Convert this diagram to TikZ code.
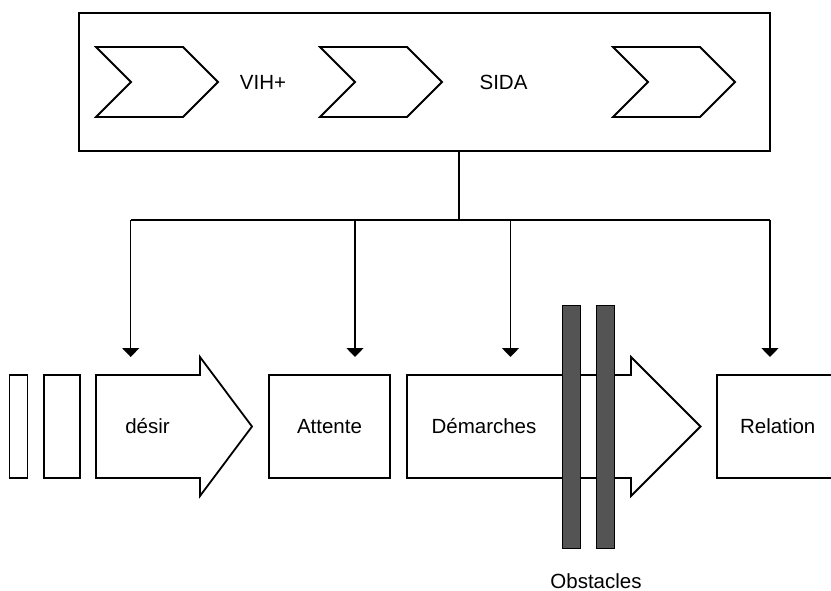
\documentclass[tikz,border=0pt]{standalone}
\usepackage{fontspec}
\setmainfont{Liberation Sans}
\usetikzlibrary{arrows.meta}
\begin{document}
\begin{tikzpicture}[x=1pt, y=-1pt, line width=1.8pt, font=\fontsize{20.5}{24}\selectfont,
        drop/.style={draw, line width=1.5pt, -{Triangle[length=9pt,width=17pt]}}]
            \tikzstyle{box}=[draw, inner sep=0pt, minimum width=121pt, minimum height=103pt]
            \tikzstyle{slab}=[draw, inner sep=0pt, minimum height=103pt]
            \tikzstyle{barrier}=[draw, line width=1.2pt, fill=black!67, inner sep=0pt, minimum width=18pt, minimum height=243pt]
            \useasboundingbox (0,0) rectangle (831,591);
            % Top frame
            \node[draw, inner sep=0pt, minimum width=691pt, minimum height=138pt] (frame) at (424.5,82) {};
            \foreach \x in {96,320,613} {
                \draw (\x,47) -- ++(87,0) -- ++(35,35) -- ++(-35,35) -- ++(-87,0) -- ++(35,-35) -- cycle;
            }
            \node (vih) at (263,82) {VIH+};
            \node (sida) at (503.5,82) {SIDA};
            % Trunk and drops
            \coordinate (bus) at (459,220);
            \coordinate (d1) at (130.7,357);
            \coordinate (d2) at (355,357);
            \coordinate (d3) at (510.5,357);
            \coordinate (d4) at (770,357);
            \draw (frame.south -| bus) -- (bus);
            \draw (d1 |- bus) -- (d4 |- bus);
            \foreach \d in {d1,d2,d3,d4}
                \draw[drop] (\d |- bus) -- (\d);
            % Bottom row
            \node[slab, minimum width=18pt] (old1) at (18.5,426.5) {};
            \node[slab, minimum width=36pt] (old2) at (62,426.5) {};
            \draw (96,375) -- (200,375) -- (200,357) -- (252,426.5) -- (200,496) -- (200,478) -- (96,478) -- cycle;
            \node (desir) at (147.5,426.5) {désir};
            \node[box] (attente) at (329.5,426.5) {Attente};
            \draw (407,375) -- (631,375) -- (631,357) -- (700.5,426.5) -- (631,496) -- (631,478) -- (407,478) -- cycle;
            \node (demarches) at (484,426.5) {Démarches};
            \node[barrier] (obst1) at (571.5,427) {};
            \node[barrier] (obst2) at (605.5,427) {};
            \node[inner sep=0pt] (obstacles) at (596,581) {Obstacles};
            \node[box] (relation) at (777.8,426.5) {Relation};
        \end{tikzpicture}
\end{document}
